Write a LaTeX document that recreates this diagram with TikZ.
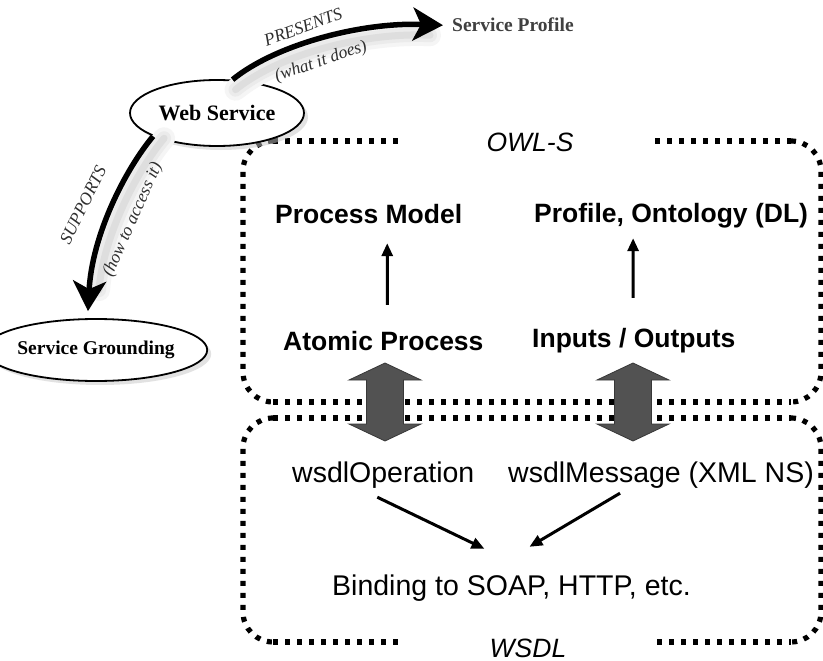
\documentclass[tikz,border=0pt]{standalone}
\usepackage{fontspec}
\setmainfont{Liberation Serif}
\newfontfamily\arialfont{Liberation Sans}
\usetikzlibrary{arrows.meta,shapes.geometric,shadows}

\begin{document}
\begin{tikzpicture}[x=1pt,y=-1pt,
  hdots/.style={line width=5.2pt, dash pattern=on 5pt off 7pt},
  vdots/.style={line width=5.2pt, dash pattern=on 5pt off 7pt, rounded corners=30pt},
  owltext/.style={font=\arialfont\bfseries\fontsize{26.5}{30}\selectfont,
    inner sep=0pt, text height=19pt, text depth=0pt, anchor=base west},
  wsdltext/.style={font=\arialfont\fontsize{28.5}{32}\selectfont,
    inner sep=0pt, text height=20pt, text depth=0pt, anchor=base west},
  layertitle/.style={font=\arialfont\itshape\fontsize{26.5}{30}\selectfont,
    inner sep=0pt, anchor=base},
  concept/.style={ellipse, draw, line width=1.8pt, fill=white, inner sep=0pt,
    font=\bfseries, drop shadow={shadow xshift=4pt, shadow yshift=-4pt, fill=black!22}},
  curvelabel/.style={font=\itshape\fontsize{17.5}{20}\selectfont, text=black!82, inner sep=0pt},
  curvearrow/.style={line width=5.5pt, -{Stealth[length=30pt, width=33pt, inset=8pt]}},
  curveshade/.style={line cap=round},
  thinarrow/.style={line width=3pt, -{Triangle[length=13pt, width=11pt]}},
  bigarrow/.pic={
    \fill[black!68, draw=black!78, line width=0.8pt]
      (-36,380) -- (0,363) -- (36,380) -- (18.5,380) -- (18.5,424) -- (36,424)
      -- (0,441) -- (-36,424) -- (-18.5,424) -- (-18.5,380) -- cycle;
  }
]
\useasboundingbox (0,0) rectangle (823,661);
\fill[white] (0,0) rectangle (823,661);

% ---------- OWL-S layer frame ----------
\draw[vdots] (273,141) -- (243,141) -- (243,402) -- (273,402);
\draw[vdots] (791,141) -- (821,141) -- (821,402) -- (791,402);
\draw[hdots] (273,141) -- (402,141);
\draw[hdots] (655,141) -- (791,141);
\draw[hdots] (273,402) -- (791,402);
\node[layertitle] (owls) at (530,151) {OWL-S};

% ---------- WSDL layer frame ----------
\draw[vdots] (273,418) -- (243,418) -- (243,642) -- (273,642);
\draw[vdots] (791,418) -- (821,418) -- (821,642) -- (791,642);
\draw[hdots] (273,418) -- (791,418);
\draw[hdots] (273,642) -- (400,642);
\draw[hdots] (657,642) -- (791,642);
\node[layertitle] (wsdl) at (528,657) {WSDL};

% ---------- OWL-S concepts ----------
\node[owltext] (pm)     at (275,223) {Process Model};
\node[owltext] (prof)   at (534,222) {Profile, Ontology (DL)};
\node[owltext] (atomic) at (283,350) {Atomic Process};
\node[owltext] (io)     at (532,347) {Inputs / Outputs};

\draw[thinarrow] ([xshift=4pt,yshift=26pt]atomic.north) -- ([xshift=18.5pt,yshift=-20pt]pm.south);
\draw[thinarrow] ([xshift=-0.6pt,yshift=30pt]io.north) -- ([xshift=-38pt,yshift=-16pt]prof.south);

% ---------- WSDL concepts ----------
\node[wsdltext] (wop)  at (292,482) {wsdlOperation};
\node[wsdltext] (wmsg) at (508,482) {wsdlMessage (XML NS)};
\node[wsdltext] (bind) at (332,595) {Binding to SOAP, HTTP, etc.};

\draw[thinarrow] ([xshift=-6pt,yshift=-15pt]wop.south) -- ([xshift=-27pt,yshift=26pt]bind.north);
\draw[thinarrow] ([xshift=-41pt,yshift=-11pt]wmsg.south) -- ([xshift=18pt,yshift=28pt]bind.north);

% ---------- mappings between the two layers ----------
\pic at (385,0) {bigarrow};
\pic at (633,0) {bigarrow};

% ---------- service ontology ----------
\node[concept, minimum width=174pt, minimum height=66pt,
      font=\bfseries\fontsize{22}{24}\selectfont] (ws) at (217,113) {Web Service};
\node[concept, minimum width=178pt, minimum height=62pt,
      font=\bfseries\fontsize{19.5}{22}\selectfont] (sg) at (96,350) {Service Grounding};
\node[font=\bfseries\fontsize{19.5}{22}\selectfont, text=black!75, inner sep=0pt,
      anchor=base west] (sp) at (452,32) {Service Profile};

% soft shading beside the curved arrows
\begin{scope}[transform canvas={xshift=3pt,yshift=-10pt}]
  \draw[curveshade, black!4,  line width=22pt] (ws.65) .. controls (275,45) and (360,22) .. ([xshift=-25pt]sp.west);
  \draw[curveshade, black!8,  line width=14pt] (ws.65) .. controls (275,45) and (360,22) .. ([xshift=-25pt]sp.west);
  \draw[curveshade, black!13, line width=7pt]  (ws.65) .. controls (275,45) and (360,22) .. ([xshift=-25pt]sp.west);
\end{scope}
\begin{scope}[transform canvas={xshift=11pt,yshift=-2pt}]
  \draw[curveshade, black!4,  line width=22pt] (ws.200) .. controls (125,170) and (92,235) .. ([shift={(-8pt,30pt)}]sg.north);
  \draw[curveshade, black!8,  line width=14pt] (ws.200) .. controls (125,170) and (92,235) .. ([shift={(-8pt,30pt)}]sg.north);
  \draw[curveshade, black!13, line width=7pt]  (ws.200) .. controls (125,170) and (92,235) .. ([shift={(-8pt,30pt)}]sg.north);
\end{scope}

\draw[curvearrow] (ws.65) .. controls (275,45) and (360,22) .. ([xshift=-9pt]sp.west);
\draw[curvearrow] (ws.200) .. controls (125,170) and (92,235) .. ([shift={(-8pt,7pt)}]sg.north);

\node[curvelabel, rotate=20] (presents)  at (303,27)  {PRESENTS};
\node[curvelabel, rotate=19] (whatdoes)  at (321,62)  {(what it does)};
\node[curvelabel, rotate=64] (supports)  at (83,205)  {SUPPORTS};
\node[curvelabel, rotate=66] (howaccess) at (133,220) {(how to access it)};
\end{tikzpicture}
\end{document}
